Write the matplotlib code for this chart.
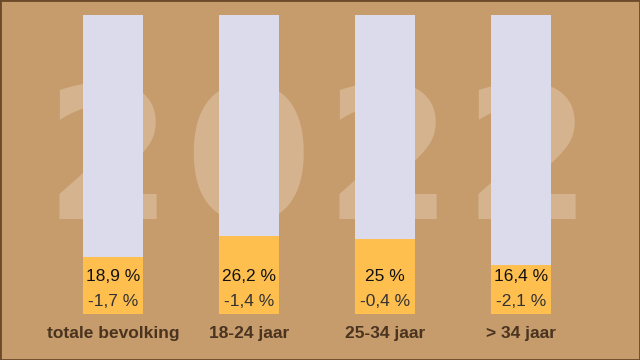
import matplotlib
matplotlib.use("Agg")
import matplotlib.pyplot as plt
from matplotlib.patches import Rectangle

# data
categories = ["totale bevolking", "18-24 jaar", "25-34 jaar", "> 34 jaar"]
shares = [18.9, 26.2, 25.0, 16.4]
share_labels = ["18,9 %", "26,2 %", "25 %", "16,4 %"]
change_labels = ["-1,7 %", "-1,4 %", "-0,4 %", "-2,1 %"]
total = [100, 100, 100, 100]
year = "2022"

bg = "#C69C6D"
lavender = "#DCDBEC"
orange = "#FFBF4F"
watermark = "#D5B38E"
label_col = "#4A3420"

plt.rcParams["font.family"] = ["Liberation Sans", "DejaVu Sans"]

fig = plt.figure(figsize=(6.4, 3.6), dpi=100, facecolor=bg)
ax = fig.add_axes([0, 0, 1, 1])
ax.set_facecolor(bg)

# big year in the background
for i, ch in enumerate(year):
    ax.text(0.170 + i * 0.218, 0.392, ch, transform=ax.transAxes,
            ha="center", va="baseline", fontsize=132, fontweight="bold",
            color=watermark, family="DejaVu Sans", zorder=0)

x = range(len(categories))
ax.bar(x, total, width=0.44, color=lavender, zorder=2)
ax.bar(x, shares, width=0.44, color=orange, zorder=3)

for i in x:
    ax.text(i, 12.6, share_labels[i], ha="center", va="center",
            fontsize=12.5, color="#111111", zorder=4)
    ax.text(i, 4.3, change_labels[i], ha="center", va="center",
            fontsize=12.5, color="#333333", zorder=4)
    ax.text(i, -6.4, categories[i], ha="center", va="center",
            fontsize=12.5, fontweight="bold", color=label_col, zorder=4)

ax.set_xlim(-0.831, 3.875)
ax.set_ylim(-15.38, 105.0)
ax.axis("off")

fig.patches.append(Rectangle((0, 0), 1, 1, transform=fig.transFigure,
                             fill=False, edgecolor="#6B4A2A", linewidth=2))

fig.savefig("out.png", dpi=100, facecolor=bg)
